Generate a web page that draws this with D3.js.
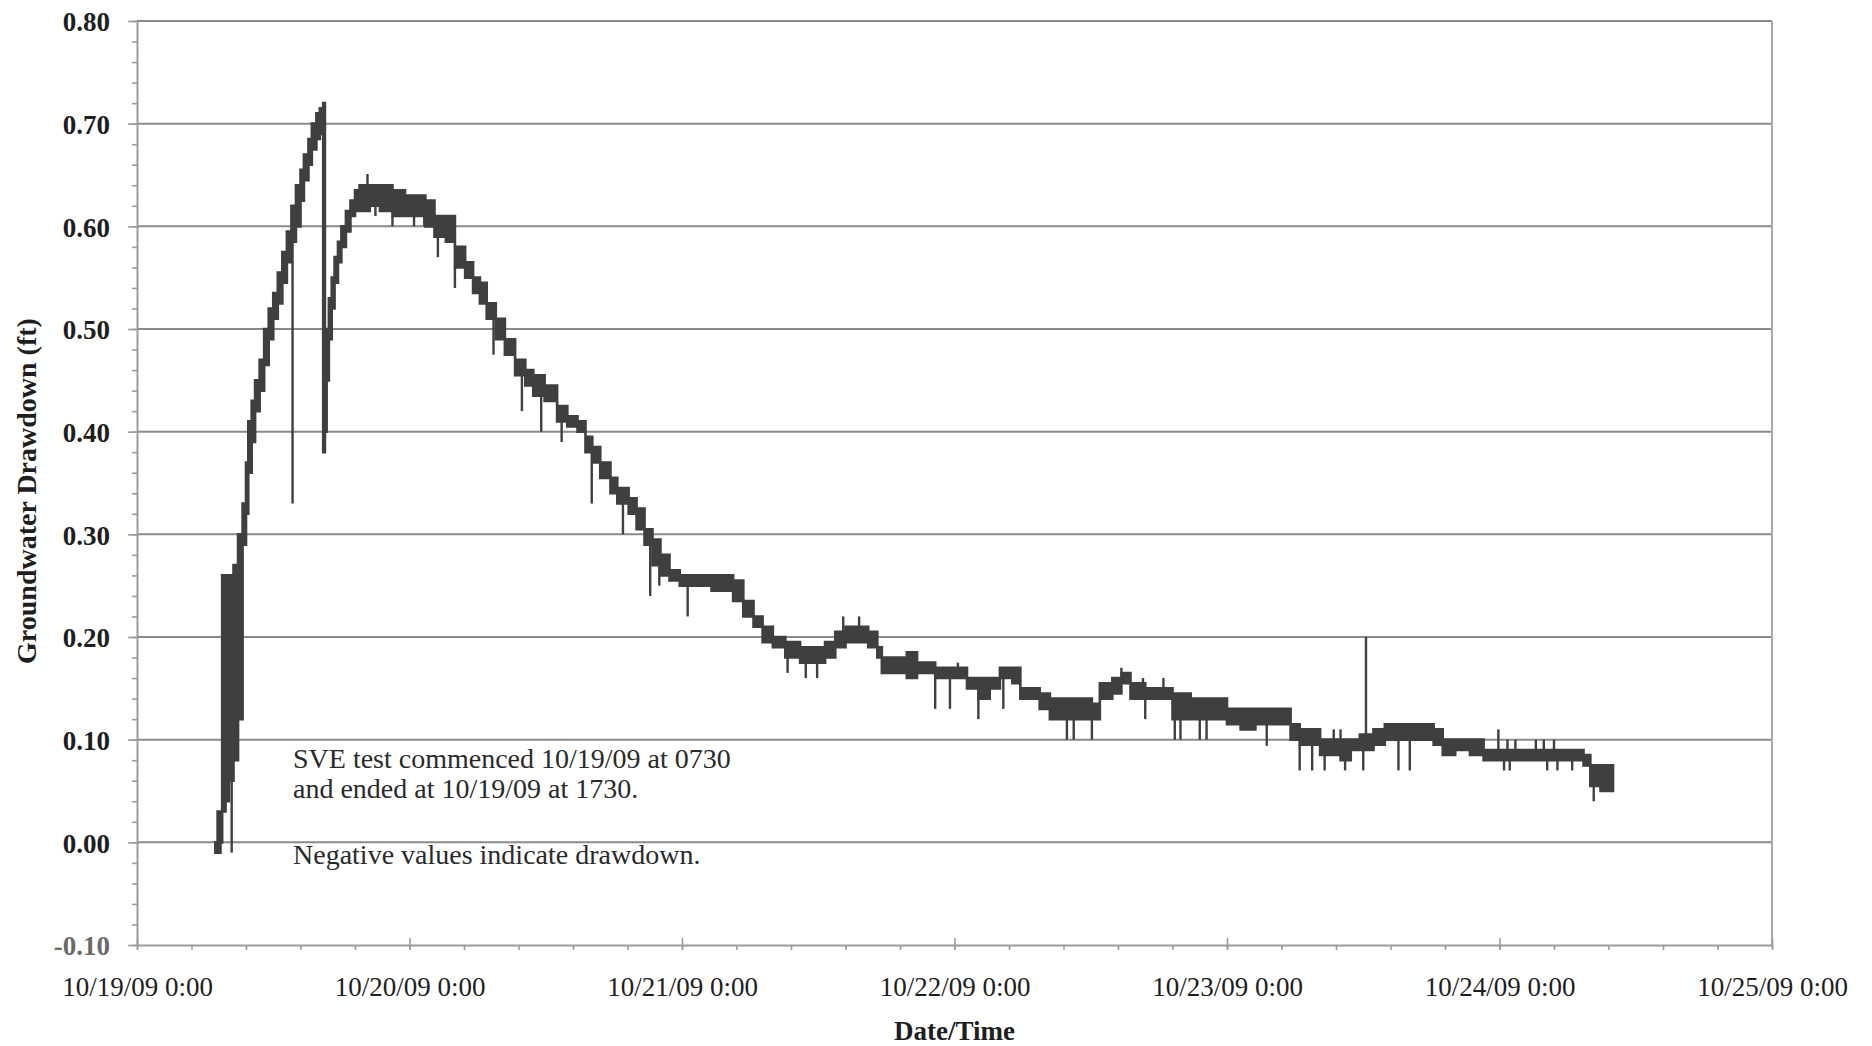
<!DOCTYPE html>
<html>
<head>
<meta charset="utf-8">
<script src="https://cdn.jsdelivr.net/npm/d3@7"></script>
<style>
  html, body { margin: 0; padding: 0; background: #ffffff; }
  svg { display: block; }
</style>
</head>
<body>
<svg id="chart" width="1872" height="1046"></svg>
<script>
// Logger readings, hours after 10/19/09 0:00. Each window holds the low and
// high reading (ft) that the transducer flickered between until the next window.
const hours = [
  6.9, 7.1, 7.35, 7.5, 7.8, 8.1, 8.5, 8.9, 9.3, 9.6, 9.8, 10.1, 10.4, 10.8, 11.2,
  11.6, 12.0, 12.4, 12.8, 13.2, 13.6, 14.0, 14.4, 14.7, 15.1, 15.4, 15.8, 16.1,
  16.4, 16.55, 16.7, 16.9, 17.15, 17.4, 17.7, 18.0, 18.4, 18.8, 19.2, 19.6, 20.5,
  21.4, 22.5, 23.6, 24.5, 25.4, 26.2, 27.2, 28.0, 28.9, 29.6, 30.2, 30.8, 31.6,
  32.4, 33.3, 34.2, 34.9, 35.9, 37.0, 37.9, 38.8, 39.5, 40.1, 40.8, 41.7, 42.3,
  43.3, 44.0, 44.7, 45.4, 46.1, 46.9, 47.8, 48.5, 49.6, 50.6, 51.5, 52.5, 53.4,
  54.3, 55.1, 56.0, 57.1, 58.4, 59.7, 60.6, 61.5, 62.4, 63.4, 64.4, 65.2, 65.6,
  66.8, 67.8, 68.7, 70.3, 71.6, 73.1, 74.1, 75.1, 76.0, 77.1, 77.8, 78.7, 79.5,
  80.4, 81.7, 83.1, 84.1, 84.8, 85.9, 86.7, 87.5, 88.8, 90.2, 91.2, 92.8, 94.5,
  96.0, 97.2, 98.5, 99.8, 100.9, 101.6, 102.4, 103.3, 104.2, 105.1, 106.0, 106.9,
  107.7, 108.9, 109.9, 110.8, 111.7, 113.0, 114.2, 115.0, 116.1, 117.4, 118.6,
  120.1, 121.8, 123.6, 124.9, 126.2, 127.4, 128.0, 128.9, 130.0
];
const lowFt = [
  -0.01, -0.01, 0.00, 0.03, 0.04, 0.06, 0.08, 0.12, 0.29, 0.32, 0.36, 0.39, 0.42, 0.44, 0.465,
  0.49, 0.51, 0.525, 0.545, 0.565, 0.585, 0.60, 0.625, 0.645, 0.66, 0.675, 0.685, 0.69,
  0.38, 0.40, 0.45, 0.49, 0.52, 0.545, 0.565, 0.58, 0.595, 0.61, 0.615, 0.615, 0.62,
  0.615, 0.61, 0.61, 0.61, 0.60, 0.59, 0.585, 0.56, 0.55, 0.535, 0.525, 0.51, 0.49,
  0.475, 0.455, 0.445, 0.435, 0.43, 0.41, 0.405, 0.40, 0.38, 0.37, 0.355, 0.34, 0.33,
  0.32, 0.305, 0.29, 0.27, 0.26, 0.255, 0.25, 0.25, 0.25, 0.245, 0.245, 0.235, 0.22,
  0.21, 0.195, 0.19, 0.18, 0.175, 0.175, 0.18, 0.19, 0.195, 0.195, 0.19, 0.18, 0.165,
  0.165, 0.16, 0.165, 0.16, 0.16, 0.15, 0.14, 0.15, 0.16, 0.155, 0.14, 0.14, 0.13,
  0.12, 0.12, 0.12, 0.12, 0.14, 0.145, 0.155, 0.14, 0.14, 0.14, 0.12, 0.12, 0.12,
  0.115, 0.11, 0.115, 0.115, 0.115, 0.10, 0.095, 0.095, 0.085, 0.085, 0.08, 0.09,
  0.09, 0.095, 0.10, 0.10, 0.10, 0.10, 0.095, 0.085, 0.09, 0.085, 0.08,
  0.08, 0.08, 0.08, 0.08, 0.08, 0.075, 0.055, 0.05, 0.055
];
const highFt = [
  0.00, 0.03, 0.03, 0.26, 0.26, 0.26, 0.27, 0.30, 0.33, 0.37, 0.41, 0.43, 0.45, 0.47, 0.50,
  0.52, 0.535, 0.555, 0.575, 0.595, 0.62, 0.64, 0.655, 0.67, 0.685, 0.70, 0.71, 0.715,
  0.72, 0.47, 0.50, 0.53, 0.55, 0.57, 0.585, 0.60, 0.615, 0.625, 0.635, 0.64, 0.64,
  0.64, 0.635, 0.63, 0.63, 0.625, 0.61, 0.61, 0.58, 0.565, 0.55, 0.545, 0.525, 0.51,
  0.49, 0.47, 0.46, 0.455, 0.445, 0.425, 0.415, 0.41, 0.395, 0.385, 0.37, 0.355, 0.345,
  0.335, 0.325, 0.305, 0.295, 0.28, 0.265, 0.26, 0.26, 0.26, 0.26, 0.26, 0.255, 0.235,
  0.22, 0.21, 0.20, 0.195, 0.19, 0.19, 0.195, 0.205, 0.21, 0.21, 0.205, 0.19, 0.18,
  0.18, 0.185, 0.175, 0.17, 0.17, 0.16, 0.16, 0.16, 0.17, 0.17, 0.15, 0.15, 0.145,
  0.14, 0.14, 0.14, 0.135, 0.155, 0.16, 0.165, 0.155, 0.15, 0.15, 0.145, 0.14, 0.14,
  0.13, 0.13, 0.13, 0.13, 0.13, 0.115, 0.11, 0.11, 0.10, 0.10, 0.10, 0.10,
  0.105, 0.11, 0.115, 0.115, 0.115, 0.115, 0.11, 0.10, 0.10, 0.10, 0.09,
  0.09, 0.09, 0.09, 0.09, 0.09, 0.085, 0.075, 0.075, 0.075
];

// Isolated readings that jump out of the band.
const spikeHours = [
  8.34, 13.7, 20.3, 21.0, 22.5, 24.4, 25.3, 26.5, 28.0, 31.4, 33.9, 35.6, 37.4,
  40.05, 42.8, 45.2, 46.0, 48.5, 57.3, 58.9, 59.9, 62.2, 63.6, 70.3, 71.6, 72.3,
  74.1, 76.3, 81.9, 82.5, 84.1, 86.7, 88.6, 88.8, 90.4, 91.4, 91.9, 93.6, 94.2,
  99.5, 102.4, 103.5, 104.6, 105.4, 106.0, 106.4, 108.0, 108.24, 111.1, 112.1,
  119.9, 120.4, 120.7, 120.9, 121.4, 123.2, 123.9, 124.2, 124.8, 125.1, 126.4, 128.3
];
const spikeFt = [
  -0.01, 0.33, 0.651, 0.61, 0.60, 0.60, 0.60, 0.57, 0.54, 0.475, 0.42, 0.40, 0.39,
  0.33, 0.30, 0.24, 0.25, 0.22, 0.165, 0.16, 0.16, 0.22, 0.22, 0.13, 0.13, 0.175,
  0.12, 0.13, 0.10, 0.10, 0.10, 0.17, 0.16, 0.12, 0.16, 0.10, 0.10, 0.10, 0.10,
  0.094, 0.07, 0.07, 0.07, 0.11, 0.11, 0.07, 0.07, 0.20, 0.07, 0.07,
  0.11, 0.07, 0.10, 0.07, 0.10, 0.10, 0.10, 0.07, 0.10, 0.07, 0.07, 0.04
];

const xTickLabels = [
  "10/19/09 0:00", "10/20/09 0:00", "10/21/09 0:00", "10/22/09 0:00",
  "10/23/09 0:00", "10/24/09 0:00", "10/25/09 0:00"
];
const yTickValues = [-0.1, 0.0, 0.1, 0.2, 0.3, 0.4, 0.5, 0.6, 0.7, 0.8];
const yTickLabels = ["-0.10", "0.00", "0.10", "0.20", "0.30", "0.40", "0.50", "0.60", "0.70", "0.80"];
const noteLines = [
  "SVE test commenced 10/19/09 at 0730",
  "and ended at 10/19/09 at 1730.",
  "Negative values indicate drawdown."
];
const xTitle = "Date/Time";
const yTitle = "Groundwater Drawdown (ft)";

// ---- layout ----
const plot = { left: 137, right: 1772, top: 21, bottom: 945 };
const serif = "'Liberation Serif', 'Times New Roman', serif";
const ink = "#1e1e1e";
const gridColor = "#8a8a8a";
const axisColor = "#9c9c9c";
const dataColor = "#3f3f3f";

const t0 = new Date(2009, 9, 19, 0, 0);
const hourToDate = h => new Date(t0.getTime() + h * 3600e3);
const xTickDates = xTickLabels.map((_, i) => d3.timeDay.offset(t0, i));

const x = d3.scaleTime()
  .domain([t0, d3.timeDay.offset(t0, 6)])
  .range([plot.left, plot.right]);
const y = d3.scaleLinear()
  .domain([-0.1, 0.8])
  .range([plot.bottom, plot.top]);

const svg = d3.select("#chart");
svg.append("rect").attr("width", 1872).attr("height", 1046).attr("fill", "#ffffff");

// ---- gridlines ----
svg.append("g")
  .selectAll("line")
  .data(yTickValues.filter(v => v > -0.1))
  .join("line")
  .attr("x1", plot.left).attr("x2", plot.right)
  .attr("y1", d => y(d)).attr("y2", d => y(d))
  .attr("stroke", gridColor).attr("stroke-width", 2);

// right frame edge
svg.append("line")
  .attr("x1", plot.right).attr("x2", plot.right)
  .attr("y1", plot.top).attr("y2", plot.bottom)
  .attr("stroke", "#a8a8a8").attr("stroke-width", 2);

// ---- axes ----
const minorY = d3.range(-10, 81, 2).map(k => k / 100);
const minorX = d3.range(0, 31).map(k => hourToDate(k * 4.8));

const yMinorAxis = svg.append("g")
  .attr("transform", `translate(${plot.left},0)`)
  .call(d3.axisLeft(y).tickValues(minorY).tickSize(5).tickSizeOuter(0).tickFormat(""));
const yAxis = svg.append("g")
  .attr("transform", `translate(${plot.left},0)`)
  .call(d3.axisLeft(y).tickValues(yTickValues).tickSize(9).tickSizeOuter(0).tickPadding(18)
    .tickFormat((d, i) => yTickLabels[i]));

const xMinorAxis = svg.append("g")
  .attr("transform", `translate(0,${plot.bottom})`)
  .call(d3.axisBottom(x).tickValues(minorX).tickSize(5).tickSizeOuter(0).tickFormat(""));
const xUpTicks = svg.append("g")
  .attr("transform", `translate(0,${plot.bottom})`)
  .call(d3.axisTop(x).tickValues(xTickDates).tickSize(7).tickSizeOuter(0).tickFormat(""));
const xAxis = svg.append("g")
  .attr("transform", `translate(0,${plot.bottom})`)
  .call(d3.axisBottom(x).tickValues(xTickDates).tickSize(4).tickSizeOuter(0)
    .tickFormat((d, i) => xTickLabels[i]));

[yMinorAxis, yAxis, xMinorAxis, xUpTicks, xAxis].forEach(g => {
  g.select(".domain").attr("stroke", axisColor).attr("stroke-width", 2);
  g.selectAll(".tick line").attr("stroke", axisColor).attr("stroke-width", 1.6);
});
[xUpTicks, yMinorAxis, xMinorAxis].forEach(g => g.select(".domain").remove());

yAxis.selectAll(".tick text")
  .attr("font-family", serif).attr("font-size", 27).attr("font-weight", "bold")
  .attr("fill", (d) => d < 0 ? "#6a6a6a" : ink)
  .attr("dy", "0.36em");
xAxis.selectAll(".tick text")
  .attr("font-family", serif).attr("font-size", 27)
  .attr("fill", ink)
  .attr("y", 51).attr("dy", 0);

// ---- axis titles ----
svg.append("text")
  .attr("x", (plot.left + plot.right) / 2).attr("y", 1040)
  .attr("text-anchor", "middle")
  .attr("font-family", serif).attr("font-size", 27).attr("font-weight", "bold")
  .attr("fill", ink).text(xTitle);
svg.append("text")
  .attr("transform", `translate(36,${(plot.top + plot.bottom) / 2 + 8}) rotate(-90)`)
  .attr("text-anchor", "middle")
  .attr("font-family", serif).attr("font-size", 28).attr("font-weight", "bold")
  .attr("fill", ink).text(yTitle);

// ---- drawdown series ----
const readings = hours.map((h, i) => ({ t: hourToDate(h), lo: lowFt[i], hi: highFt[i] }));

const band = d3.area()
  .x(d => x(d.t))
  .y0(d => y(d.lo))
  .y1(d => y(d.hi))
  .curve(d3.curveStepAfter);

svg.append("path")
  .datum(readings)
  .attr("d", band)
  .attr("fill", dataColor)
  .attr("stroke", dataColor)
  .attr("stroke-width", 2.6)
  .attr("stroke-linejoin", "miter");

// spikes: a vertical stroke from the band edge out to the lone reading
const bisectHour = d3.bisector(h => h).right;
const spikes = spikeHours.map((h, i) => {
  const k = Math.max(0, bisectHour(hours, h) - 1);
  const v = spikeFt[i];
  const edge = v > highFt[k] ? highFt[k] : (v < lowFt[k] ? lowFt[k] : (lowFt[k] + highFt[k]) / 2);
  return { t: hourToDate(h), from: edge, to: v };
});
svg.append("g")
  .selectAll("line")
  .data(spikes)
  .join("line")
  .attr("x1", d => x(d.t)).attr("x2", d => x(d.t))
  .attr("y1", d => y(d.from)).attr("y2", d => y(d.to))
  .attr("stroke", dataColor).attr("stroke-width", 2.4);

// ---- notes ----
const noteBaselines = [768, 798, 864];
svg.append("g")
  .selectAll("text")
  .data(noteLines)
  .join("text")
  .attr("x", 293)
  .attr("y", (d, i) => noteBaselines[i])
  .attr("font-family", serif).attr("font-size", 28)
  .attr("fill", "#2a2a2a")
  .text(d => d);
</script>
</body>
</html>
